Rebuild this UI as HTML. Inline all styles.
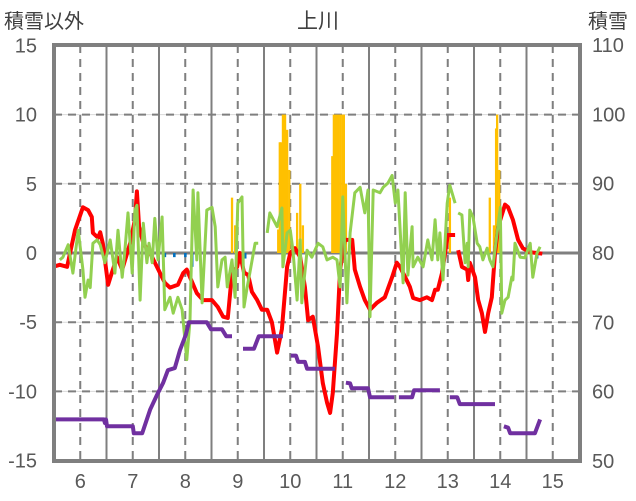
<!DOCTYPE html>
<html><head><meta charset="utf-8">
<style>
body{margin:0;background:#fff;}
svg{display:block;font-family:"Liberation Sans","Noto Sans CJK JP",sans-serif;}
</style></head>
<body>
<svg id="chart" width="636" height="501" viewBox="0 0 636 501">
<text x="318" y="28" font-size="21" fill="#404040" text-anchor="middle">上川</text>
<text x="4" y="28" font-size="20" fill="#404040">積雪以外</text>
<text x="588" y="28" font-size="20" fill="#404040">積雪</text>
<g id="grid"></g>
<g id="bars"></g>
<g id="lines"></g>
<g id="axes"></g>
</svg>
<script>
const xTicks=[6,7,8,9,10,11,12,13,14,15];
const leftTicks=[15,10,5,0,-5,-10,-15];
const rightTicks=[110,100,90,80,70,60,50];
const redDays=[5.48,5.61,5.75,5.9,6.05,6.15,6.22,6.24,6.34,6.38,6.43,6.53,6.6,6.7,6.8,6.95,7.04,7.08,7.12,7.2,7.33,7.46,7.61,7.71,7.86,7.96,8.03,8.09,8.22,8.34,8.51,8.62,8.72,8.81,8.89,8.99,9.04,9.12,9.2,9.27,9.37,9.46,9.56,9.65,9.75,9.84,9.94,10.0,10.09,10.19,10.28,10.34,10.43,10.53,10.62,10.7,10.76,10.81,10.89,10.95,11.04,11.18,11.23,11.33,11.42,11.52,11.65,11.8,11.94,12.03,12.09,12.19,12.28,12.34,12.47,12.6,12.7,12.76,12.81,12.89,12.95,13.0,13.14,13.17,13.2,13.27,13.37,13.39,13.42,13.52,13.58,13.65,13.71,13.77,13.84,13.9,13.96,14.09,14.15,14.24,14.34,14.43,14.57,14.7,14.8];
const redVals=[-1.0,-0.85,-1.0,1.65,3.3,3.1,2.6,1.45,1.1,1.5,0.7,-2.3,-1.45,-0.3,-1.2,0.7,2.4,4.45,1.9,0.7,0,-1.0,-2.15,-2.5,-2.3,-1.45,-1.2,-1.75,-2.9,-3.4,-3.4,-3.9,-4.6,-4.7,-1.45,-1.0,0,-1.4,-1.6,-2.8,-3.4,-4.1,-4.1,-5.0,-7.2,-5.5,-1.0,0,0.35,-0.3,-2.45,-4.85,-4.6,-6.8,-9.4,-10.8,-11.55,-10.1,-5.8,-1.2,0.95,0.95,-1.2,-2.45,-3.4,-4.1,-3.6,-3.2,-1.75,-0.7,-1.0,-1.75,-2.45,-3.25,-3.4,-3.2,-3.4,-2.65,-2.65,-1.45,0,1.3,1.3,null,0.2,-1.0,-1.2,-1.95,-0.7,-1.75,-3.4,-4.35,-5.7,-4.35,-3.2,0,1.9,3.5,3.3,2.4,0.95,0.35,0.05,0,-0.05];
const greenDays=[5.61,5.67,5.77,5.86,5.96,6.05,6.09,6.15,6.19,6.24,6.32,6.38,6.47,6.57,6.66,6.72,6.8,6.85,6.91,6.99,7.04,7.08,7.14,7.2,7.27,7.31,7.37,7.42,7.48,7.56,7.61,7.71,7.77,7.86,7.94,8.03,8.09,8.15,8.22,8.24,8.32,8.41,8.51,8.57,8.62,8.7,8.76,8.8,8.89,8.95,9.0,9.08,9.12,9.18,9.23,9.33,9.39,9.47,9.56,9.61,9.75,9.84,9.86,9.94,10.0,10.05,10.13,10.19,10.22,10.32,10.41,10.53,10.62,10.7,10.81,10.89,10.95,11.0,11.08,11.14,11.23,11.33,11.42,11.48,11.52,11.58,11.71,11.77,11.86,11.94,12.0,12.05,12.15,12.19,12.24,12.32,12.34,12.43,12.53,12.62,12.7,12.76,12.81,12.85,12.91,12.99,13.04,13.14,13.17,13.2,13.27,13.33,13.37,13.39,13.42,13.48,13.56,13.61,13.67,13.75,13.8,13.86,13.94,14.0,14.03,14.09,14.15,14.22,14.24,14.28,14.38,14.47,14.57,14.62,14.7,14.76];
const greenVals=[-0.5,-0.3,0.6,-1.45,1.65,-1.2,-3.2,-1.95,-2.5,0.7,0.95,0.6,-0.7,0.95,-1.45,1.65,-1.75,0.2,2.9,-1.45,3.1,3.45,-3.4,2.15,-0.7,0.7,-0.7,2.5,-0.5,2.6,-4.1,-3.2,-4.35,-3.2,-4.1,-7.7,-4.85,4.55,-0.5,4.35,-3.6,3.1,3.3,1.9,-2.45,-0.5,-0.3,-2.45,-0.5,-3.2,3.6,4.05,-3.9,-2.45,-1.45,0.7,0.7,null,1.45,2.9,1.9,3.25,-1.0,1.45,1.65,0.2,-3.4,0.95,-3.6,0.2,-0.3,0.7,0.45,-0.5,-0.3,-0.5,-2.45,4.05,-3.6,1.45,4.35,4.75,2.9,4.55,-4.6,4.55,4.35,4.75,5.05,5.6,3.6,4.55,-2.15,4.35,-1.6,1.9,-1.0,-0.3,-1.0,0.95,-0.5,2.4,-0.5,1.45,-1.95,3.6,4.9,3.6,null,2.9,2.75,-0.7,0.7,-1.0,3.1,2.6,0.7,0.45,-0.5,0.35,-0.5,-1.0,1.45,3.3,-4.35,-3.4,-3.2,-1.75,-1.95,0.7,-0.3,-0.35,0.7,-1.75,0,0.45];
const snowDays=[5.5,6.45,6.47,6.49,6.51,7.0,7.02,7.18,7.33,7.46,7.58,7.67,7.8,7.9,8.01,8.07,8.41,8.49,8.7,8.78,8.89,8.95,9.1,9.31,9.4,9.86,9.92,10.01,10.11,10.15,10.28,10.32,10.85,10.95,11.06,11.14,11.17,11.48,11.52,11.98,12.02,12.07,12.32,12.36,12.85,12.95,13.04,13.18,13.23,13.9,13.98,14.07,14.15,14.19,14.66,14.76];
const snowVals=[56,56,55.5,56,55,55,54,54,57.4,59.5,61.3,63.1,63.4,66,68.2,70,70,69,69,68,68,null,66.2,66.2,68,68,null,65.2,65.2,64.3,64.3,63.3,63.3,null,61.3,61.2,60.5,60.5,59.2,59.2,null,59.2,59.2,60.2,60.2,null,59.2,59.2,58.2,58.2,null,55,54.8,54,54,56];
const orangeDays=[8.89,8.95,9.77,9.8,9.82,9.86,9.9,9.94,9.98,10.13,10.19,10.24,10.8,10.83,10.87,10.91,10.95,10.99,11.02,11.06,13.04,13.8,13.88,13.92,13.94,13.98];
const orangeVals=[4,2,1.7,8,8,10,10,8.9,6,2.9,5,2,7,10,10,10,10,10,10,5,4,4,2,9,10,6];
const blueDays=[7.27,7.48,7.61,7.79,8.0,8.13,9.14,14.7];
const blueVals=[-0.3,-0.3,-0.3,-0.3,-0.3,-1.0,-0.4,-0.4];

const NS='http://www.w3.org/2000/svg';
const X0=54,PX=52.5,Y0=253,PY=13.84;
function xs(d){return X0+(d-5.5)*PX;}
function yl(v){return Y0-v*PY;}
function yr(s){return 461-(s-50)*6.933;}
function mk(tag,attrs,parent){const e=document.createElementNS(NS,tag);for(const k in attrs)e.setAttribute(k,attrs[k]);parent.appendChild(e);return e;}
const grid=document.getElementById('grid'),bars=document.getElementById('bars'),lines=document.getElementById('lines'),axes=document.getElementById('axes');

leftTicks.forEach(v=>{
  if(v===15||v===-15||v===0)return;
  const y=yl(v);
  const l1=mk('line',{x1:54,x2:580,y1:y,y2:y,stroke:'#d9d9d9','stroke-width':1},grid);
  
  
  const l=mk('line',{x1:54,x2:580,y1:y,y2:y,stroke:'#7f7f7f','stroke-width':2,'stroke-dasharray':'8,6'},grid);
  
  
});
for(let d=6.5;d<15.5;d+=1){
  const l=mk('line',{x1:xs(d),x2:xs(d),y1:45,y2:461,stroke:'#7f7f7f','stroke-width':2},grid);
  
  
}
xTicks.forEach(d=>{
  const l=mk('line',{x1:xs(d),x2:xs(d),y1:45,y2:461,stroke:'#7f7f7f','stroke-width':2,'stroke-dasharray':'8,6'},grid);
  
  
});

orangeDays.forEach((d,i)=>{
  const y=yl(orangeVals[i]);
  const r=mk('rect',{x:xs(d)-1.1,y:y,width:2.3,height:Y0-y,fill:'#ffc000'},bars);
  
  
});
blueDays.forEach((d,i)=>{
  const y=yl(blueVals[i]);
  const r=mk('rect',{x:xs(d)-1.2,y:Y0,width:2.6,height:y-Y0,fill:'#0070c0'},bars);
  
  
});
const z=mk('line',{x1:54,x2:580,y1:Y0,y2:Y0,stroke:'#7f7f7f','stroke-width':3},grid);



function pathOf(days,vals,yf){
  let d='',pen=false;
  days.forEach((t,i)=>{const v=vals[i];if(v===null){pen=false;return;}d+=(pen?'L':'M')+xs(t).toFixed(1)+','+yf(v).toFixed(1);pen=true;});
  return d;
}
const pr=mk('path',{d:pathOf(redDays,redVals,yl),fill:'none',stroke:'#ff0000','stroke-width':4,'stroke-linejoin':'round'},lines);


const pg=mk('path',{d:pathOf(greenDays,greenVals,yl),fill:'none',stroke:'#92d050','stroke-width':3,'stroke-linejoin':'round'},lines);


const pp=mk('path',{d:pathOf(snowDays,snowVals,yr),fill:'none',stroke:'#7030a0','stroke-width':4,'stroke-linejoin':'round'},lines);



const fr=mk('rect',{x:54,y:45,width:526,height:416,fill:'none',stroke:'#7f7f7f','stroke-width':4},axes);


leftTicks.forEach(v=>{
  const t=mk('text',{x:37,y:yl(v)+7,'font-size':20,fill:'#595959','text-anchor':'end'},axes);
  t.textContent=v;
  
  
});
rightTicks.forEach(s=>{
  const t=mk('text',{x:592,y:yr(s)+7,'font-size':20,fill:'#595959'},axes);
  t.textContent=s;
  
  
});
xTicks.forEach(d=>{
  const t=mk('text',{x:xs(d),y:488,'font-size':20,fill:'#595959','text-anchor':'middle'},axes);
  t.textContent=d;
  
  
});
</script>
</body></html>
